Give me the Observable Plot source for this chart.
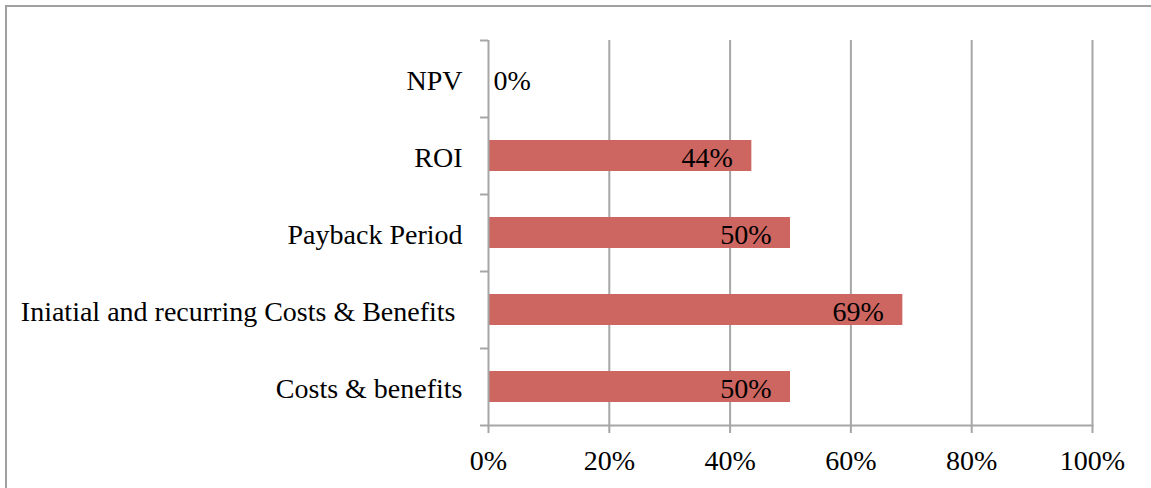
<!DOCTYPE html>
<html>
<head>
<meta charset="utf-8">
<script src="https://cdn.jsdelivr.net/npm/d3@7"></script>
<script src="https://cdn.jsdelivr.net/npm/@observablehq/plot@0.6"></script>
<style>
  html, body { margin: 0; padding: 0; background: #fff; }
  #wrap { position: relative; width: 1151px; height: 488px; overflow: hidden; }
  #border { position: absolute; left: 5px; top: 5px; right: -10px; bottom: -10px;
            border-left: 2px solid #a0a0a0; border-top: 2px solid #a0a0a0; pointer-events: none; }
  svg { display: block; }
</style>
</head>
<body>
<div id="wrap"><div id="border"></div></div>
<script>
const categories = ["NPV", "ROI", "Payback Period", "Iniatial and recurring Costs & Benefits ", "Costs & benefits"];
const values = [0, 0.436, 0.5, 0.686, 0.5];
const xTicks = [0, 0.2, 0.4, 0.6, 0.8, 1];

const data = categories.map((c, i) => ({category: c, value: values[i]}));

const W = 1151, H = 488;
const mTop = 40, mBottom = 63, mLeft = 488, mRight = 59;
const step = (H - mTop - mBottom) / categories.length;
const gray = "#a6a6a6";
const pct = d3.format(".0%");

const chart = Plot.plot({
  width: W,
  height: H,
  marginTop: mTop,
  marginBottom: mBottom,
  marginLeft: mLeft,
  marginRight: mRight,
  style: {fontFamily: "'Liberation Serif', serif", fontSize: "28px", color: "#000", background: "transparent"},
  x: {domain: [0, 1], label: null},
  y: {domain: categories, padding: 0, label: null},
  marks: [
    Plot.gridX(xTicks.slice(1), {stroke: gray, strokeOpacity: 1, strokeWidth: 2}),
    Plot.barX(data, {y: "category", x: "value", fill: "#cd6660", insetTop: 23, insetBottom: 23}),
    Plot.ruleX([0], {stroke: gray, strokeWidth: 2}),
    Plot.frame({anchor: "bottom", stroke: gray, strokeWidth: 2}),
    Plot.axisX({ticks: xTicks, tickFormat: pct, tickSize: 8, tickPadding: 17, stroke: gray, strokeWidth: 2, fill: "#000", label: null}),
    Plot.axisY({ticks: categories, tickSize: 0, tickPadding: 26, dy: 2, fill: "#000", label: null,
                tickFormat: d => d.replace(/ $/, "\u00a0")}),
    Plot.axisY({ticks: categories, tickSize: 8, text: null, dy: -step / 2, stroke: gray, strokeWidth: 2, label: null}),
    Plot.axisY({ticks: categories.slice(-1), tickSize: 8, text: null, dy: step / 2, stroke: gray, strokeWidth: 2, label: null}),
    Plot.text(data.filter(d => d.value > 0), {y: "category", x: "value", text: d => pct(d.value), textAnchor: "end", dx: -19, dy: 2, fill: "#000"}),
    Plot.text(data.filter(d => d.value === 0), {y: "category", x: "value", text: d => pct(d.value), textAnchor: "start", dx: 5, dy: 2, fill: "#000"})
  ]
});

document.getElementById("wrap").prepend(chart);
</script>
</body>
</html>
